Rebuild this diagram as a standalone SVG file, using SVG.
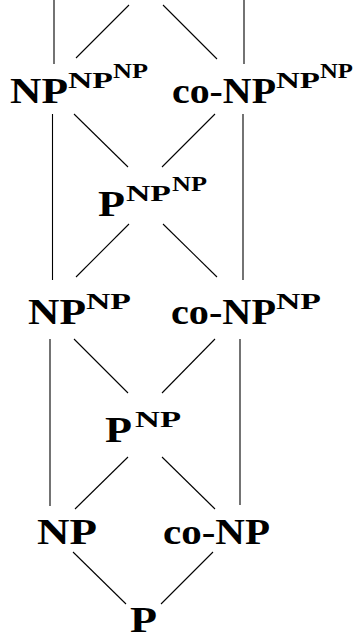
<svg xmlns="http://www.w3.org/2000/svg" width="354" height="640" viewBox="0 0 354 640">
<style>
text{font-family:"Liberation Serif","Times New Roman",serif;font-weight:bold;fill:#000}
.b{font-size:36px}
.s{font-size:24px}
.ss{font-size:21px}
.e line{stroke:#000;stroke-width:1.1}
</style>
<rect width="354" height="640" fill="#fff"/>
<g id="connectors" class="e">
<line x1="54" y1="0" x2="54" y2="64"/>
<line x1="244" y1="0" x2="244" y2="64"/>
<line x1="129" y1="5" x2="76" y2="58"/>
<line x1="163" y1="5" x2="217" y2="59"/>
<line x1="52.5" y1="114" x2="52.5" y2="280"/>
<line x1="243" y1="114" x2="243" y2="280"/>
<line x1="74" y1="114" x2="128" y2="167"/>
<line x1="215" y1="114" x2="162" y2="167"/>
<line x1="129" y1="224" x2="76" y2="277"/>
<line x1="163" y1="224" x2="217" y2="277"/>
<line x1="50" y1="339" x2="50" y2="506"/>
<line x1="240" y1="339" x2="240" y2="505"/>
<line x1="74" y1="339" x2="128" y2="393"/>
<line x1="215" y1="339" x2="162" y2="393"/>
<line x1="128" y1="457" x2="75" y2="509"/>
<line x1="162" y1="457" x2="215" y2="509"/>
<line x1="73" y1="552" x2="126" y2="604"/>
<line x1="213" y1="552" x2="161" y2="604"/>
</g>
<g id="np-np-np">
<text class="b" x="10" y="103" textLength="58" lengthAdjust="spacingAndGlyphs">NP</text>
<text class="s" x="68" y="88" textLength="45" lengthAdjust="spacingAndGlyphs">NP</text>
<text class="ss" x="113" y="78" textLength="35" lengthAdjust="spacingAndGlyphs">NP</text>
</g>
<g id="conp-np-np">
<text class="b" x="172" y="103" textLength="104" lengthAdjust="spacingAndGlyphs">co-NP</text>
<text class="s" x="276" y="88" textLength="44" lengthAdjust="spacingAndGlyphs">NP</text>
<text class="ss" x="320" y="78" textLength="33" lengthAdjust="spacingAndGlyphs">NP</text>
</g>
<g id="p-np-np">
<text class="b" x="98" y="216" textLength="27" lengthAdjust="spacingAndGlyphs">P</text>
<text class="s" x="126" y="201" textLength="45" lengthAdjust="spacingAndGlyphs">NP</text>
<text class="ss" x="172" y="191" textLength="35" lengthAdjust="spacingAndGlyphs">NP</text>
</g>
<g id="np-np">
<text class="b" x="28" y="324" textLength="58" lengthAdjust="spacingAndGlyphs">NP</text>
<text class="s" x="86" y="309" textLength="45" lengthAdjust="spacingAndGlyphs">NP</text>
</g>
<g id="conp-np">
<text class="b" x="171" y="324" textLength="105" lengthAdjust="spacingAndGlyphs">co-NP</text>
<text class="s" x="276" y="309" textLength="45" lengthAdjust="spacingAndGlyphs">NP</text>
</g>
<g id="p-np">
<text class="b" x="105" y="442" textLength="27" lengthAdjust="spacingAndGlyphs">P</text>
<text class="s" x="135" y="427" textLength="46" lengthAdjust="spacingAndGlyphs">NP</text>
</g>
<g id="np">
<text class="b" x="37" y="544" textLength="60" lengthAdjust="spacingAndGlyphs">NP</text>
</g>
<g id="conp">
<text class="b" x="163" y="544" textLength="107" lengthAdjust="spacingAndGlyphs">co-NP</text>
</g>
<g id="p">
<text class="b" x="130" y="632" textLength="27" lengthAdjust="spacingAndGlyphs">P</text>
</g>
</svg>
